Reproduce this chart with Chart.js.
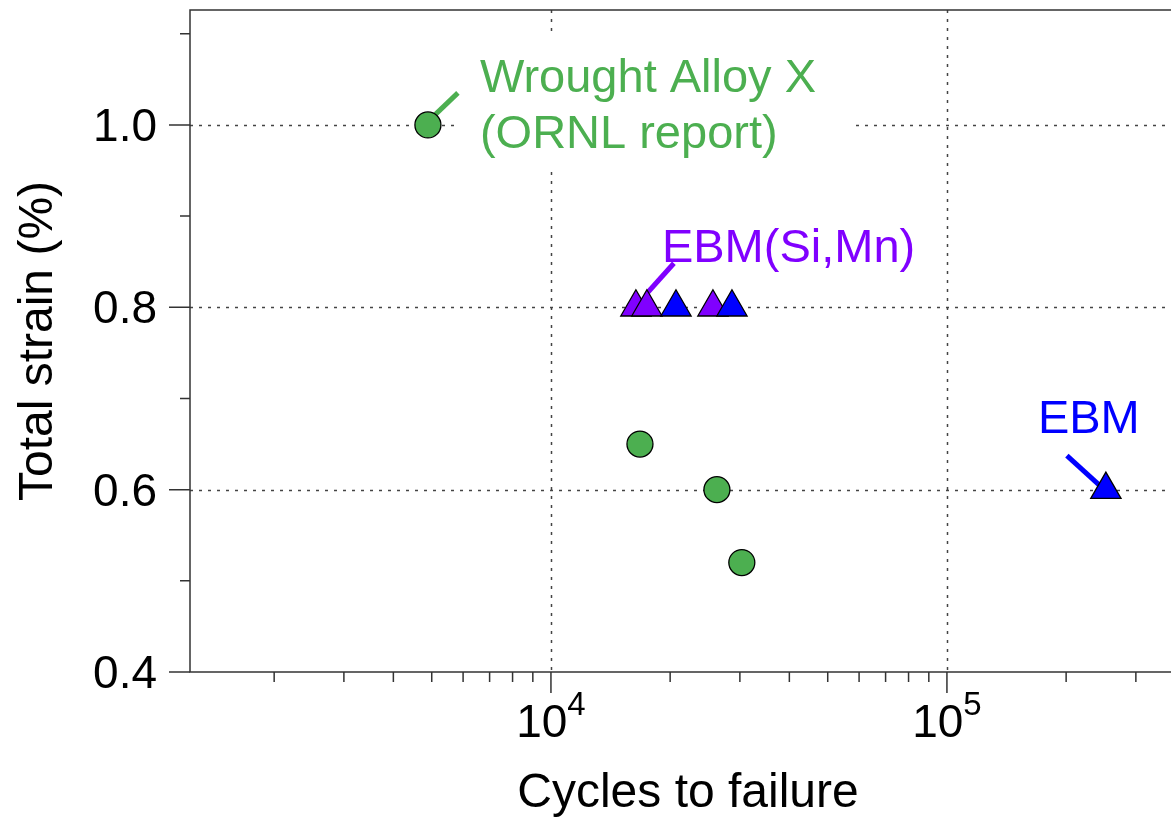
<!DOCTYPE html>
<html>
<head>
<meta charset="utf-8">
<title>Strain-life</title>
<script src="https://cdn.jsdelivr.net/npm/chart.js@4/dist/chart.umd.min.js"></script>
<style>
  html, body { margin: 0; padding: 0; background: #fff; }
  #wrap { width: 1171px; height: 817px; }
</style>
</head>
<body>
<div id="wrap"><canvas id="fatigueChart" width="1171" height="817"></canvas></div>
<script>
// ── Data ───────────────────────────────────────────────────
const wroughtCycles = [4890, 16780, 26250, 30340];
const wroughtStrain = [1.0, 0.65, 0.6, 0.52];

const ebmCycles = [20690, 28650, 252000];
const ebmStrain = [0.8, 0.8, 0.6];

const ebmSiMnCycles = [16390, 17470, 25650];
const ebmSiMnStrain = [0.8, 0.8, 0.8];

const yMajorTicks = [0.4, 0.6, 0.8, 1.0];
const yMinorTicks = [0.5, 0.7, 0.9, 1.1];
const xMajorTicks = [1e4, 1e5];
const xMinorTicks = [2e3, 3e3, 4e3, 5e3, 6e3, 7e3, 8e3, 9e3,
                     2e4, 3e4, 4e4, 5e4, 6e4, 7e4, 8e4, 9e4,
                     2e5, 3e5];

const GREEN  = '#4caf50';
const PURPLE = '#8000ff';
const BLUE   = '#0000ff';
const FONT   = '"Liberation Sans", Arial, Helvetica, sans-serif';

// callouts: anchored on a data point, offsets in px
const callouts = [
    { x: 4890,   y: 1.0, color: GREEN,  lines: ['Wrought Alloy X', '(ORNL report)'],
      tx: 52, ty: -33, lh: 56, lead: [7, -10, 30, -32], box: true },
    { x: 17470,  y: 0.8, color: PURPLE, lines: ['EBM(Si,Mn)'],
      tx: 15, ty: -45, lh: 56, lead: [1, -15, 27, -44], box: false },
    { x: 252000, y: 0.6, color: BLUE,   lines: ['EBM'],
      tx: -68, ty: -57, lh: 56, lead: [-6, -4, -39, -34], box: false }
];

const toPoints = (xs, ys) => xs.map((x, i) => ({ x, y: ys[i] }));

// ── Frame, grid, ticks, callouts ───────────────────────────
const framePlugin = {
    id: 'frame',
    beforeDatasetsDraw(chart) {
        const { ctx, chartArea: a, scales: { x, y } } = chart;
        ctx.save();

        // dotted grid
        ctx.strokeStyle = '#444';
        ctx.lineWidth = 1.5;
        ctx.setLineDash([3, 6]);
        yMajorTicks.slice(1).forEach(v => {
            const py = Math.round(y.getPixelForValue(v)) + 0.5;
            ctx.beginPath(); ctx.moveTo(a.left, py); ctx.lineTo(a.right, py); ctx.stroke();
        });
        xMajorTicks.forEach(v => {
            const px = Math.round(x.getPixelForValue(v)) + 0.5;
            ctx.beginPath(); ctx.moveTo(px, a.top); ctx.lineTo(px, a.bottom); ctx.stroke();
        });
        ctx.setLineDash([]);

        // callout boxes, leaders and text
        ctx.font = `47px ${FONT}`;
        callouts.forEach(c => {
            const px = x.getPixelForValue(c.x);
            const py = y.getPixelForValue(c.y);
            const w = Math.max(...c.lines.map(s => ctx.measureText(s).width));
            const left = px + c.tx, base = py + c.ty;
            if (c.box) {
                ctx.fillStyle = '#fff';
                ctx.fillRect(left - 25, base - 60, w + 61, (c.lines.length - 1) * c.lh + 80);
            }

            ctx.strokeStyle = c.color;
            ctx.lineWidth = 5;
            ctx.beginPath();
            ctx.moveTo(px + c.lead[0], py + c.lead[1]);
            ctx.lineTo(px + c.lead[2], py + c.lead[3]);
            ctx.stroke();

            ctx.fillStyle = c.color;
            ctx.textAlign = 'left';
            ctx.textBaseline = 'alphabetic';
            c.lines.forEach((s, i) => ctx.fillText(s, left, base + i * c.lh));
        });

        // axis lines
        ctx.strokeStyle = '#333';
        ctx.lineWidth = 1.5;
        ctx.beginPath();
        ctx.moveTo(a.right, a.top); ctx.lineTo(a.left, a.top);
        ctx.lineTo(a.left, a.bottom); ctx.lineTo(a.right, a.bottom);
        ctx.stroke();

        // y ticks
        ctx.beginPath();
        yMajorTicks.forEach(v => {
            const py = y.getPixelForValue(v);
            ctx.moveTo(a.left - 21, py); ctx.lineTo(a.left, py);
        });
        yMinorTicks.forEach(v => {
            const py = y.getPixelForValue(v);
            ctx.moveTo(a.left - 10, py); ctx.lineTo(a.left, py);
        });
        // x ticks
        xMajorTicks.forEach(v => {
            const px = x.getPixelForValue(v);
            ctx.moveTo(px, a.bottom); ctx.lineTo(px, a.bottom + 21);
        });
        xMinorTicks.forEach(v => {
            const px = x.getPixelForValue(v);
            if (px < a.left || px > a.right) return;
            ctx.moveTo(px, a.bottom); ctx.lineTo(px, a.bottom + 10);
        });
        ctx.stroke();

        // tick labels
        ctx.fillStyle = '#000';
        ctx.font = `46px ${FONT}`;
        ctx.textAlign = 'right';
        ctx.textBaseline = 'alphabetic';
        yMajorTicks.forEach(v => {
            ctx.fillText(v.toFixed(1), a.left - 33, y.getPixelForValue(v) + 16);
        });

        xMajorTicks.forEach(v => {
            const px = x.getPixelForValue(v);
            const exp = String(Math.round(Math.log10(v)));
            ctx.font = `46px ${FONT}`;
            const wb = ctx.measureText('10').width;
            ctx.font = `33px ${FONT}`;
            const we = ctx.measureText(exp).width;
            const start = px - (wb + we) / 2;
            ctx.textAlign = 'left';
            ctx.font = `46px ${FONT}`;
            ctx.fillText('10', start, a.bottom + 65);
            ctx.font = `33px ${FONT}`;
            ctx.fillText(exp, start + wb, a.bottom + 43);
        });

        // axis titles
        ctx.font = `48px ${FONT}`;
        ctx.textAlign = 'center';
        ctx.fillText('Cycles to failure', 688, a.bottom + 135);
        ctx.save();
        ctx.translate(52, (a.top + a.bottom) / 2);
        ctx.rotate(-Math.PI / 2);
        ctx.fillText('Total strain (%)', 0, 0);
        ctx.restore();

        ctx.restore();
    }
};

// ── Chart ──────────────────────────────────────────────────
new Chart(document.getElementById('fatigueChart'), {
    type: 'scatter',
    data: {
        datasets: [
            {
                label: 'Wrought Alloy X',
                data: toPoints(wroughtCycles, wroughtStrain),
                pointStyle: 'circle', pointRadius: 13, pointHoverRadius: 13,
                backgroundColor: GREEN, borderColor: '#000', borderWidth: 1.3
            },
            {
                label: 'EBM',
                data: toPoints(ebmCycles, ebmStrain),
                pointStyle: 'triangle', pointRadius: 17.5, pointHoverRadius: 17.5,
                backgroundColor: BLUE, borderColor: '#000', borderWidth: 1.3
            },
            {
                label: 'EBM(Si,Mn)',
                data: toPoints(ebmSiMnCycles, ebmSiMnStrain),
                pointStyle: 'triangle', pointRadius: 17.5, pointHoverRadius: 17.5,
                backgroundColor: PURPLE, borderColor: '#000', borderWidth: 1.3
            }
        ]
    },
    options: {
        responsive: false,
        animation: false,
        layout: { autoPadding: false, padding: { top: 10, right: 0, bottom: 0, left: 0 } },
        plugins: { legend: { display: false }, tooltip: { enabled: false } },
        scales: {
            x: {
                type: 'logarithmic', min: 1226, max: 368000,
                ticks: { display: false }, grid: { display: false }, border: { display: false },
                afterFit: s => { s.height = 145; }
            },
            y: {
                type: 'linear', min: 0.4, max: 1.126,
                ticks: { display: false }, grid: { display: false }, border: { display: false },
                afterFit: s => { s.width = 190; }
            }
        }
    },
    plugins: [framePlugin]
});
</script>
</body>
</html>
